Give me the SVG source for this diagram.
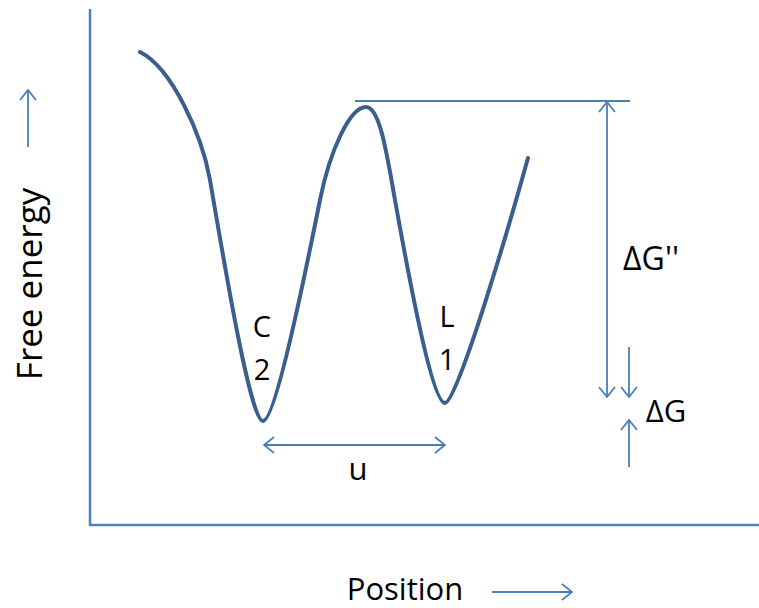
<svg xmlns="http://www.w3.org/2000/svg" width="759" height="608" viewBox="0 0 759 608">
<defs>
<marker id="ah" viewBox="0 0 12 18" refX="11" refY="9" markerWidth="12" markerHeight="18" markerUnits="userSpaceOnUse" orient="auto-start-reverse">
<path d="M1,1 L11,9 L1,17" fill="none" stroke="#4A7EBB" stroke-width="1.8"/>
</marker>
</defs>
<style>
.axis{stroke:#4F81BD;stroke-width:2.5;fill:none}
.arr{stroke:#4A7EBB;stroke-width:1.8;fill:none}
.curve{stroke:#3A5F8F;stroke-width:4;fill:none;stroke-linecap:round}
text{font-family:"Open Sans","Liberation Sans",sans-serif;fill:#000}
</style>
<rect width="759" height="608" fill="#fff"/>
<g id="axes">
<path class="axis" d="M90,9 L90,525 L759,525"/>
</g>
<g id="curve">
<path class="curve" d="M140,52 C172,68 202,135 210,180 C227,280 251,421 263,421 C275,421 304,280 320,200 C330,150 350,107 366,107 C380,107 387,155 395,200 C412,295 433,403 445,403 C458,403 515,205 528,158"/>
</g>
<g id="connectors">
<line class="arr" x1="355" y1="101" x2="630" y2="101"/>
<line class="arr" x1="607" y1="102" x2="607" y2="397" marker-start="url(#ah)" marker-end="url(#ah)"/>
<line class="arr" x1="629" y1="347" x2="629" y2="397" marker-end="url(#ah)"/>
<line class="arr" x1="629" y1="467" x2="629" y2="420" marker-end="url(#ah)"/>
<line class="arr" x1="264" y1="445" x2="445" y2="445" marker-start="url(#ah)" marker-end="url(#ah)"/>
<line class="arr" x1="28" y1="147" x2="28" y2="90" marker-end="url(#ah)"/>
<line class="arr" x1="492" y1="592" x2="572" y2="592" marker-end="url(#ah)"/>
</g>
<g id="labels">
<text x="405" y="600" font-size="31" text-anchor="middle">Position</text>
<text transform="translate(42,284) rotate(-90)" font-size="35" text-anchor="middle">Free energy</text>
<text x="651" y="270" font-size="32" text-anchor="middle">ΔG''</text>
<text x="666" y="422" font-size="31" text-anchor="middle">ΔG</text>
<text x="358" y="480" font-size="31" text-anchor="middle">u</text>
<text x="262" y="337" font-size="29" text-anchor="middle">C</text>
<text x="262" y="380" font-size="29" text-anchor="middle">2</text>
<text x="447" y="327" font-size="29" text-anchor="middle">L</text>
<text x="447" y="370" font-size="29" text-anchor="middle">1</text>
</g>
</svg>
